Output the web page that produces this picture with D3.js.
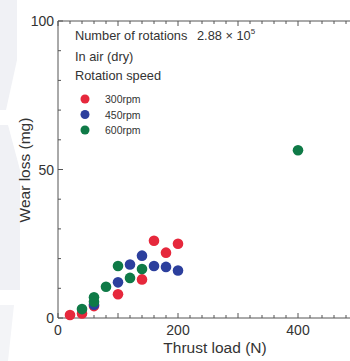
<!DOCTYPE html>
<html>
<head>
<meta charset="utf-8">
<script src="https://cdn.jsdelivr.net/npm/d3@7/dist/d3.min.js"></script>
<style>
  html, body { margin: 0; padding: 0; background: #fff; }
  svg { display: block; font-family: "Liberation Sans", Arial, sans-serif; }
</style>
</head>
<body>
<svg id="chart" width="350" height="361"></svg>
<script>
// thrust load (N) vs wear loss (mg), one array per rotation speed
const rpm300 = [
  { load: 20, wear: 1 }, { load: 40, wear: 1.5 }, { load: 60, wear: 4 },
  { load: 100, wear: 8 }, { load: 140, wear: 13 }, { load: 160, wear: 26 },
  { load: 180, wear: 22 }, { load: 200, wear: 25 }
]
const rpm450 = [
  { load: 60, wear: 4.5 }, { load: 100, wear: 12 }, { load: 120, wear: 18 },
  { load: 140, wear: 21 }, { load: 160, wear: 17.5 }, { load: 180, wear: 17.2 },
  { load: 200, wear: 16 }
]
const rpm600 = [
  { load: 40, wear: 3 }, { load: 60, wear: 5.5 }, { load: 60, wear: 7 },
  { load: 80, wear: 10.5 }, { load: 100, wear: 17.5 }, { load: 120, wear: 13.5 },
  { load: 140, wear: 16.5 }, { load: 400, wear: 56.5 }
]
const seriesNames = ['300rpm', '450rpm', '600rpm']
const seriesColors = ['#e6283c', '#2c3f9d', '#0f7a47']
const xTickLabels = [0, 200, 400]
const yTickLabels = [0, 50, 100]

const svg = d3.select('#chart')
const x = d3.scaleLinear().domain([0, 500]).range([58, 358])
const y = d3.scaleLinear().domain([0, 100]).range([318, 21])
const axisColor = '#555'
const textColor = '#333'

// faint background smudges on the left edge
svg.append('path').attr('d', 'M0,0 L17,0 L17,60 L6,110 L0,110 Z').attr('fill', '#f0f1f5')
svg.append('path').attr('d', 'M0,125 L8,125 L20,170 L20,290 L0,290 Z').attr('fill', '#f0f1f5')
svg.append('path').attr('d', 'M0,305 L14,305 L8,361 L0,361 Z').attr('fill', '#f3f4f7')

// frame lines
const frame = svg.append('g').attr('stroke', axisColor).attr('stroke-width', 1)
frame.append('line').attr('x1', x(0)).attr('x2', x(500)).attr('y1', y(0)).attr('y2', y(0))
frame.append('line').attr('x1', x(0)).attr('x2', x(500)).attr('y1', y(100)).attr('y2', y(100))
frame.append('line').attr('x1', x(0)).attr('x2', x(0)).attr('y1', y(0)).attr('y2', y(100))

// minor / major ticks, pointing inward
d3.range(0, 501, 20).forEach(v => {
  const len = v % 100 === 0 ? 5 : 3
  frame.append('line').attr('x1', x(v)).attr('x2', x(v)).attr('y1', y(0)).attr('y2', y(0) - len)
  frame.append('line').attr('x1', x(v)).attr('x2', x(v)).attr('y1', y(100)).attr('y2', y(100) + len)
})
d3.range(0, 101, 10).forEach(v => {
  const len = v % 50 === 0 ? 5 : 3
  frame.append('line').attr('x1', x(0)).attr('x2', x(0) + len).attr('y1', y(v)).attr('y2', y(v))
})

// tick labels
svg.selectAll('.xl').data(xTickLabels).enter().append('text')
  .attr('x', d => x(d)).attr('y', 335)
  .attr('text-anchor', 'middle').attr('font-size', '14px').attr('fill', textColor)
  .text(d => d)
svg.selectAll('.yl').data(yTickLabels).enter().append('text')
  .attr('x', 54).attr('y', d => y(d) + 5)
  .attr('text-anchor', 'end').attr('font-size', '14px').attr('fill', textColor)
  .text(d => d)

// axis titles
svg.append('text')
  .attr('x', 215).attr('y', 353)
  .attr('text-anchor', 'middle').attr('font-size', '15.5px').attr('fill', textColor)
  .text('Thrust load (N)')
svg.append('text')
  .attr('transform', 'translate(30,170) rotate(-90)')
  .attr('text-anchor', 'middle').attr('font-size', '15.5px').attr('fill', textColor)
  .text('Wear loss (mg)')

// points
const allSeries = [rpm300, rpm450, rpm600]
allSeries.forEach((data, i) => {
  svg.append('g').selectAll('circle').data(data).enter().append('circle')
    .attr('cx', d => x(d.load))
    .attr('cy', d => y(d.wear))
    .attr('r', 5.3)
    .attr('fill', seriesColors[i])
})

// legend / annotation
const note = svg.append('g').attr('fill', textColor).attr('font-size', '12.8px')
const t1 = note.append('text').attr('x', 75).attr('y', 40)
t1.append('tspan').text('Number of rotations')
t1.append('tspan').attr('x', 197).text('2.88 \u00d7 10')
t1.append('tspan').attr('font-size', '8px').attr('dy', -6).text('5')
note.append('text').attr('x', 75).attr('y', 61).text('In air (dry)')
note.append('text').attr('x', 75).attr('y', 80).text('Rotation speed')

seriesNames.forEach((name, i) => {
  const cy = 99 + i * 15.5
  svg.append('circle').attr('cx', 85).attr('cy', cy).attr('r', 4.5).attr('fill', seriesColors[i])
  svg.append('text').attr('x', 105).attr('y', cy + 4)
    .attr('font-size', '10.5px').attr('fill', textColor).text(name)
})
</script>
</body>
</html>
